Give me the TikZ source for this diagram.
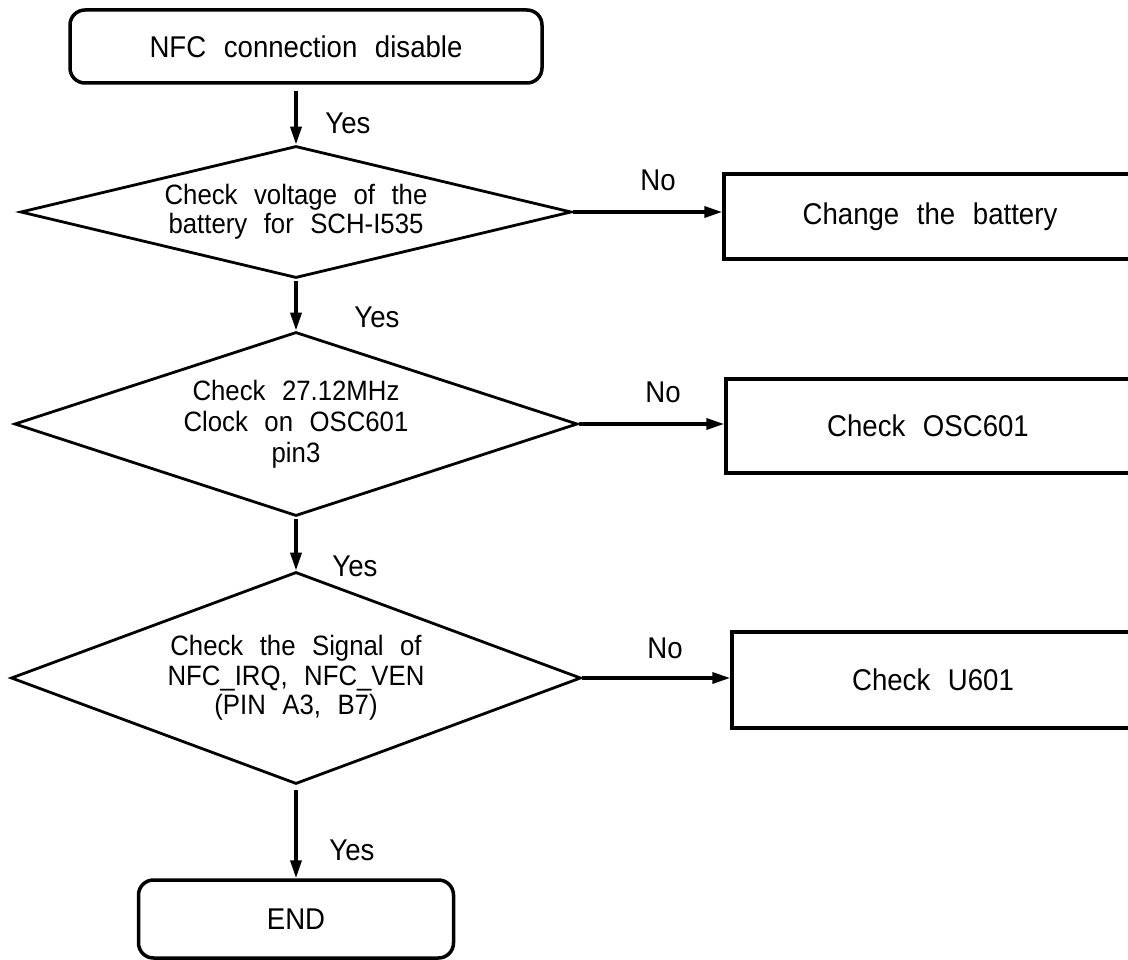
\documentclass[tikz,border=0pt]{standalone}
\usepackage{fontspec}
\setmainfont{Liberation Sans}[WordSpace=2.3, FakeStretch=0.92]
\usetikzlibrary{shapes.geometric,arrows.meta}
\begin{document}
\begin{tikzpicture}[x=1pt,y=-1pt,
  txt/.style={font=\fontsize{30}{33}\selectfont},
  term/.style={draw, line width=3.5pt, rounded corners=15pt, inner sep=0pt, txt},
  proc/.style={draw, line width=3.5pt, inner sep=0pt, txt},
  dec/.style={draw, diamond, line width=2.8pt, inner sep=0pt, align=center,
              font=\fontsize{28}{29.5}\selectfont},
  arr/.style={line width=3.5pt, -{Triangle[length=18pt,width=11pt]}},
  lab/.style={inner sep=0pt, font=\fontsize{30}{33}\selectfont}
]
\useasboundingbox (0,0) rectangle (1128,960);

% terminals
\node[term, minimum width=472pt, minimum height=73pt] (start) at (306,46.5) {NFC connection disable};
\node[term, minimum width=315pt, minimum height=78pt] (end) at (296,919) {END};

% decisions
\node[dec, minimum width=551pt, minimum height=132pt, aspect=4.2] (d1) at (296,212)
  {Check voltage of the\\battery for SCH-I535};
\node[dec, minimum width=563pt, minimum height=184pt, aspect=3.1, font=\fontsize{28}{31}\selectfont] (d2) at (296,424)
  {Check 27.12MHz\\Clock on OSC601\\pin3};
\node[dec, minimum width=570pt, minimum height=212pt, aspect=2.7] (d3) at (296,678)
  {Check the Signal of\\NFC\_IRQ, NFC\_VEN\\(PIN A3, B7)};

% process boxes
\node[proc, minimum width=412pt, minimum height=85pt] (b1) at (930,216.5) {Change the battery};
\node[proc, minimum width=404pt, minimum height=94pt] (b2) at (928,426) {Check OSC601};
\node[proc, minimum width=402pt, minimum height=96pt] (b3) at (933,680) {Check U601};

% connectors
\draw[arr, shorten <=6pt] (d1.north |- start.south) -- (d1.north);
\draw[arr, shorten <=2pt] (d1.south) -- (d2.north);
\draw[arr, shorten <=2pt] (d2.south) -- (d3.north);
\draw[arr, shorten <=5pt] (d3.south) -- (d3.south |- end.north);

\draw[arr] (d1.east) -- (d1.east -| b1.west);
\draw[arr] (d2.east) -- (d2.east -| b2.west);
\draw[arr] (d3.east) -- (d3.east -| b3.west);

% labels
\node[lab] (y1) at (348,123) {Yes};
\node[lab] (y2) at (377,317) {Yes};
\node[lab] (y3) at (355,566) {Yes};
\node[lab] (y4) at (352,850) {Yes};
\node[lab] (n1) at (658,180) {No};
\node[lab] (n2) at (663,392) {No};
\node[lab] (n3) at (665,648) {No};
\end{tikzpicture}
\end{document}
